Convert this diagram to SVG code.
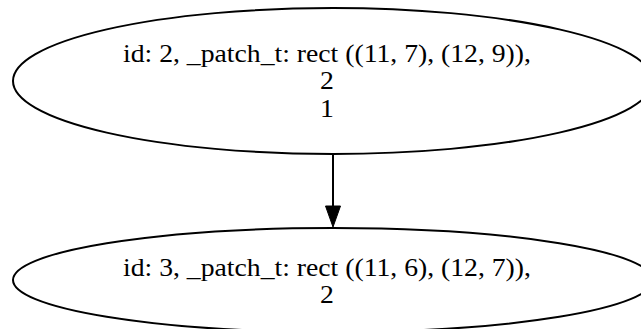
<svg xmlns="http://www.w3.org/2000/svg" width="641" height="329" viewBox="0 0 641 329">
  <style>
    .node ellipse { fill: none; stroke: #000; stroke-width: 2; }
    .node text { font-family: "Liberation Serif", "Times New Roman", serif; font-size: 25px; fill: #000; text-anchor: middle; }
    .edge line { stroke: #000; stroke-width: 2; }
    .edge path { fill: #000; stroke: #000; stroke-width: 1; }
  </style>
  <g id="node2" class="node">
    <ellipse cx="333" cy="81" rx="320" ry="73"/>
    <text x="327" y="62" textLength="408" lengthAdjust="spacingAndGlyphs">id: 2, _patch_t: rect ((11, 7), (12, 9)),</text>
    <text x="327" y="89.5" transform="translate(327 0) scale(1.11 1) translate(-327 0)">2</text>
    <text x="327" y="117" transform="translate(327 0) scale(1.11 1) translate(-327 0)">1</text>
  </g>
  <g id="node3" class="node">
    <ellipse cx="333" cy="280" rx="320" ry="52"/>
    <text x="327" y="276" textLength="408" lengthAdjust="spacingAndGlyphs">id: 3, _patch_t: rect ((11, 6), (12, 7)),</text>
    <text x="327" y="303" transform="translate(327 0) scale(1.11 1) translate(-327 0)">2</text>
  </g>
  <g id="edges" class="edge">
    <line x1="333" y1="154" x2="333" y2="208"/>
    <path d="M325.5,206 L340.5,206 L333,227 z"/>
  </g>
</svg>
